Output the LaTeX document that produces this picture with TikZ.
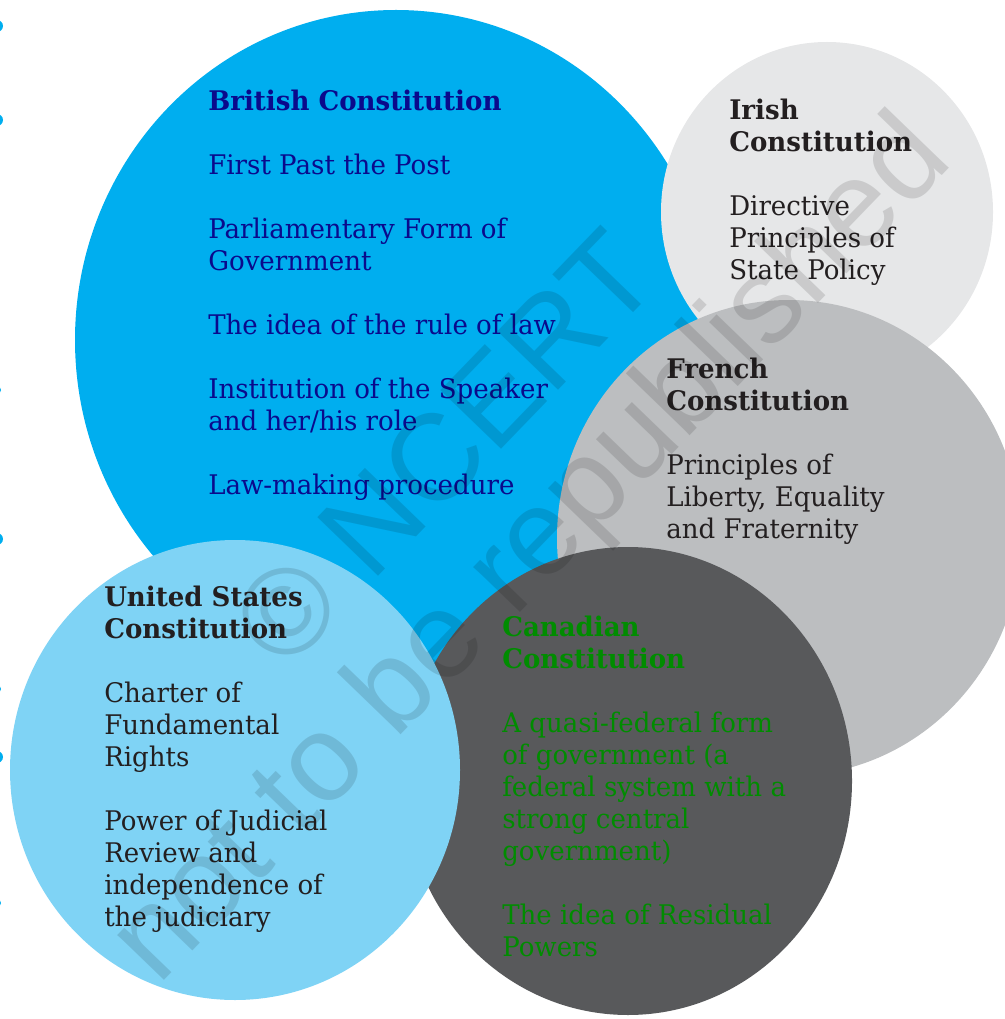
\documentclass[tikz,border=0pt]{standalone}
\usepackage{fontspec}
\setmainfont{DejaVu Serif}[FakeStretch=0.965]
\newfontfamily\wmfont{Liberation Sans}
\definecolor{britc}{HTML}{00AEEF}
\definecolor{irishc}{HTML}{E6E7E8}
\definecolor{frenchc}{HTML}{BCBEC0}
\definecolor{canc}{HTML}{58595B}
\definecolor{usc}{HTML}{7FD3F5}
\definecolor{navyt}{RGB}{10,10,140}
\definecolor{darkt}{HTML}{231F20}
\definecolor{greent}{RGB}{0,140,0}
\tikzset{
  txt/.style={anchor=base west, align=left, inner sep=0pt, font=\fontsize{20.25}{24}\selectfont},
  wm/.style={font=\wmfont\fontsize{92}{92}\selectfont, text=black, text opacity=0.12, rotate=46, inner sep=0pt},
  edgedot/.style={fill=britc}
}
\begin{document}
\begin{tikzpicture}[x=0.75pt,y=-0.75pt]
\useasboundingbox (0,0) rectangle (1004,1019);
% edge dots
\foreach \yy/\rr in {26/6,120/6,390/4,539/6,689/4,757/6,903/4}{
  \fill[edgedot] (-3,\yy) circle[radius=\rr];
}
% circles
\fill[britc] (396,340) ellipse [x radius=321, y radius=330];
\fill[irishc] (827,212) ellipse [x radius=166, y radius=170];
\fill[frenchc] (789,538) ellipse [x radius=232, y radius=238];
\fill[canc] (628,781) ellipse [x radius=224, y radius=234];
\fill[usc] (235,770) ellipse [x radius=225, y radius=230];
% texts (anchored at the baseline of the last line)
\node[txt, text=navyt] (brit) at (208,494) {\textbf{British Constitution}\\[24pt]
First Past the Post\\[24pt]
Parliamentary Form of\\ Government\\[24pt]
The idea of the rule of law\\[24pt]
Institution of the Speaker\\ and her/his role\\[24pt]
Law-making procedure};
\node[txt, text=darkt] (irish) at (729,280) {\textbf{Irish}\\ \textbf{Constitution}\\[24pt]
Directive\\ Principles of\\ State Policy};
\node[txt, text=darkt] (french) at (666,538) {\textbf{French}\\ \textbf{Constitution}\\[24pt]
Principles of\\ Liberty, Equality\\ and Fraternity};
\node[txt, text=darkt] (us) at (104,926) {\textbf{United States}\\ \textbf{Constitution}\\[24pt]
Charter of\\ Fundamental\\ Rights\\[24pt]
Power of Judicial\\ Review and\\ independence of\\ the judiciary};
\node[txt, text=greent] (can) at (502,956) {\textbf{Canadian}\\ \textbf{Constitution}\\[24pt]
A quasi-federal form\\ of government (a\\ federal system with a\\ strong central\\ government)\\[24pt]
The idea of Residual\\ Powers};
% watermark
\node[wm] (wm1) at (444,448) {© NCERT};
\node[wm] (wm2) at (534,552) {not to be republished};
\end{tikzpicture}
\end{document}
